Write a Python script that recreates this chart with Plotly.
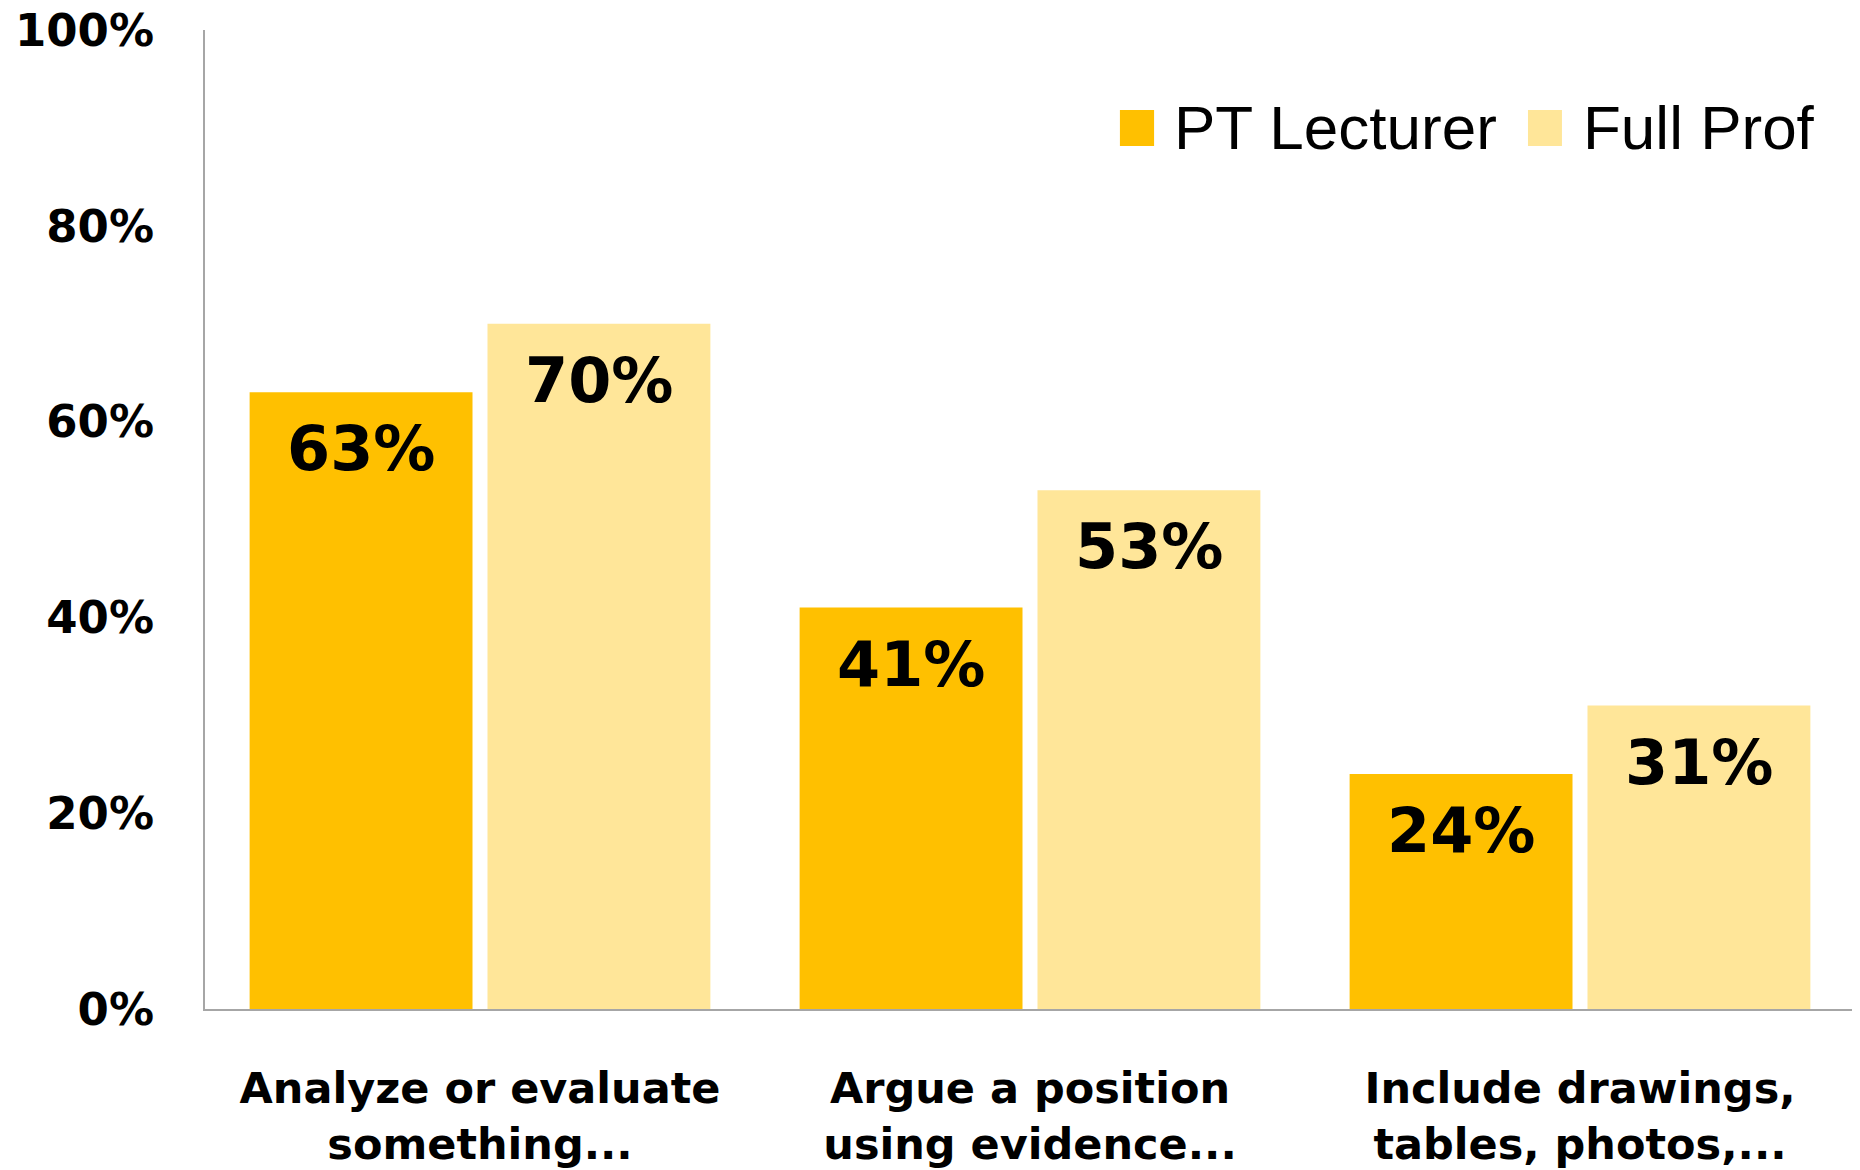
import plotly.graph_objects as go

categories = ["Analyze or evaluate<br>something...",
              "Argue a position<br>using evidence...",
              "Include drawings,<br>tables, photos,..."]
series_names = ["PT Lecturer", "Full Prof"]
pt_lecturer = [63, 41, 24]
full_prof = [70, 53, 31]
y_ticks = [0, 20, 40, 60, 80, 100]
y_tick_text = [f"{v}%" for v in y_ticks]

colors = ["#FFC000", "#FFE699"]
bold = dict(family="DejaVu Sans", weight="bold", color="black")

fig = go.Figure()

for name, vals, col in zip(series_names, [pt_lecturer, full_prof], colors):
    fig.add_trace(
        go.Bar(
            x=categories,
            y=vals,
            name=name,
            marker=dict(color=col, line=dict(width=0)),
            showlegend=False,
            hoverinfo='skip'
        )
    )

# value labels near the top of each bar
annotations = []
for k, vals in enumerate([pt_lecturer, full_prof]):
    shift = -119 if k == 0 else 119
    for cat, v in zip(categories, vals):
        annotations.append(
            dict(
                x=cat, y=v, xref='x', yref='y',
                text=f"{v}%",
                showarrow=False,
                xshift=shift, yshift=-18,
                yanchor='top',
                font=dict(size=62, **bold)
            )
        )

# legend drawn by hand so the swatches can be large
shapes = []
swatch_x = [(0.5545, 0.5752), (0.8018, 0.8224)]
label_x = [0.586, 0.834]
for name, col, (x0, x1), lx in zip(series_names, colors, swatch_x, label_x):
    shapes.append(
        dict(type='rect', xref='paper', yref='paper',
             x0=x0, x1=x1, y0=0.8815, y1=0.9183,
             fillcolor=col, line=dict(width=0))
    )
    annotations.append(
        dict(x=lx, y=0.90, xref='paper', yref='paper',
             text=name, showarrow=False,
             xanchor='left', yanchor='middle',
             font=dict(family="Liberation Sans", size=62, color="black"))
    )

fig.update_layout(
    width=1860,
    height=1170,
    margin=dict(l=197, r=13, t=22, b=169, autoexpand=False),
    paper_bgcolor='white',
    plot_bgcolor='white',
    barmode='group',
    bargap=0.135,
    bargroupgap=0.063,
    annotations=annotations,
    shapes=shapes,
    xaxis=dict(
        showgrid=False,
        zeroline=False,
        showline=True,
        linecolor='#A6A6A6',
        linewidth=2,
        ticks='',
        tickfont=dict(size=43, **bold),
        ticklabelstandoff=40,
        automargin=False
    ),
    yaxis=dict(
        range=[0, 100],
        tickvals=y_ticks,
        ticktext=y_tick_text,
        showgrid=False,
        zeroline=False,
        showline=True,
        linecolor='#A6A6A6',
        linewidth=2,
        ticks='',
        tickfont=dict(size=45, **bold),
        ticklabelstandoff=40,
        ticklabeloverflow='allow',
        automargin=False
    )
)

fig.write_html("out.html")
